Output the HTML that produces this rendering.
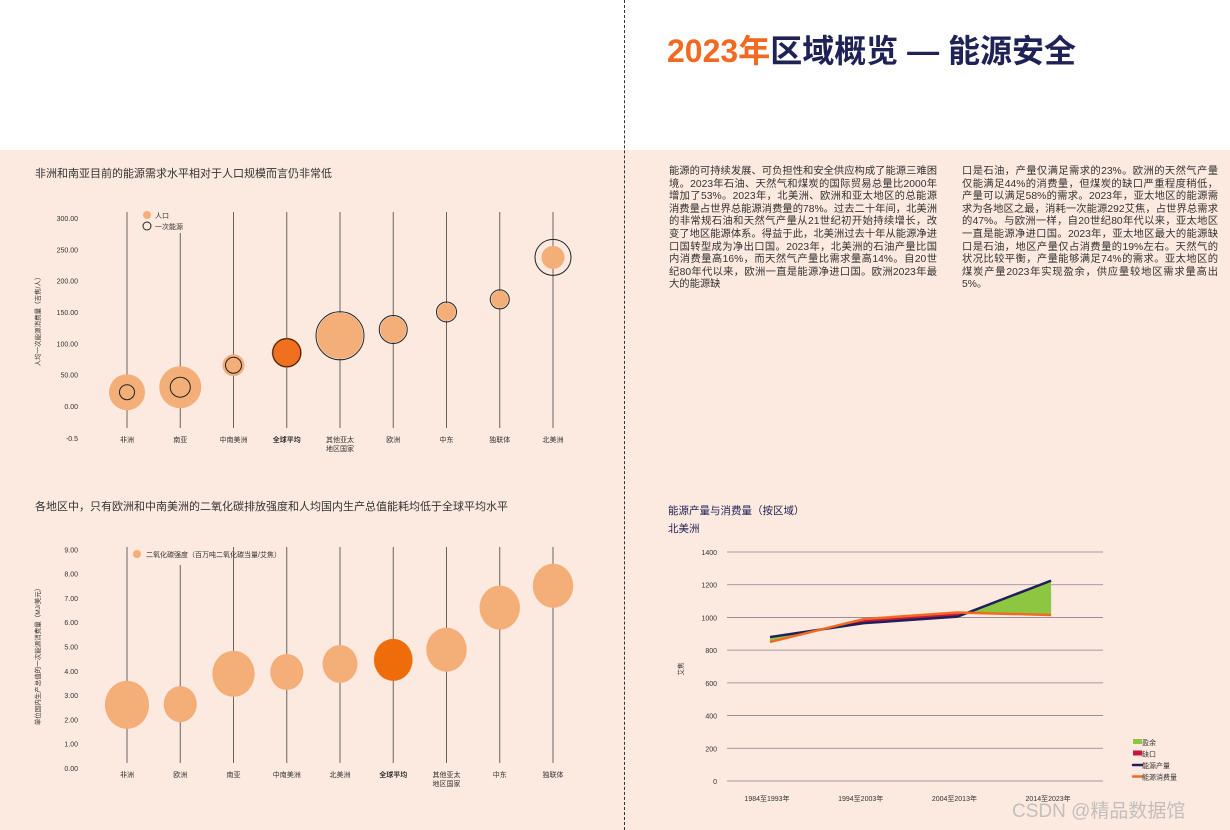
<!DOCTYPE html>
<html><head><meta charset="utf-8"><style>
body{margin:0;width:1230px;height:830px;position:relative;overflow:hidden;background:#fff;font-family:"Liberation Sans","Noto Sans CJK SC",sans-serif;color:#333}
.bg{position:absolute;left:0;top:150px;width:1230px;height:680px;background:#fce9df}
.divider{position:absolute;left:624px;top:0;height:830px;border-left:1px dashed #333}
.t{position:absolute;white-space:nowrap}
.para{position:absolute;top:166px;font-size:10.3px;line-height:12.6px;color:#333;text-align:justify}
svg{position:absolute;left:0;top:0}
</style></head><body>
<div class="bg"></div>
<div class="divider"></div>
<div class="t" style="left:667px;top:26px;font-size:32px;font-weight:bold;color:#1f2255"><span style="color:#f26a21">2023年</span>区域概览 — 能源安全</div>
<div class="t" style="left:35px;top:165px;font-size:11px">非洲和南亚目前的能源需求水平相对于人口规模而言仍非常低</div>
<div class="t" style="left:35px;top:498px;font-size:11px">各地区中，只有欧洲和中南美洲的二氧化碳排放强度和人均国内生产总值能耗均低于全球平均水平</div>
<div class="para" style="left:669px;width:268px">能源的可持续发展、可负担性和安全供应构成了能源三难困境。2023年石油、天然气和煤炭的国际贸易总量比2000年增加了53%。2023年，北美洲、欧洲和亚太地区的总能源消费量占世界总能源消费量的78%。过去二十年间，北美洲的非常规石油和天然气产量从21世纪初开始持续增长，改变了地区能源体系。得益于此，北美洲过去十年从能源净进口国转型成为净出口国。2023年，北美洲的石油产量比国内消费量高16%，而天然气产量比需求量高14%。自20世纪80年代以来，欧洲一直是能源净进口国。欧洲2023年最大的能源缺</div>
<div class="para" style="left:962px;width:256px">口是石油，产量仅满足需求的23%。欧洲的天然气产量仅能满足44%的消费量，但煤炭的缺口严重程度稍低，产量可以满足58%的需求。2023年，亚太地区的能源需求为各地区之最，消耗一次能源292艾焦，占世界总需求的47%。与欧洲一样，自20世纪80年代以来，亚太地区一直是能源净进口国。2023年，亚太地区最大的能源缺口是石油，地区产量仅占消费量的19%左右。天然气的状况比较平衡，产量能够满足74%的需求。亚太地区的煤炭产量2023年实现盈余，供应量较地区需求量高出5%。</div>
<div class="t" style="left:668px;top:503px;font-size:10.5px;color:#1f2255">能源产量与消费量（按区域）</div>
<div class="t" style="left:668px;top:521px;font-size:10.5px;color:#1f2255">北美洲</div>
<div class="t" style="left:1012px;top:796px;font-size:19px;color:rgba(180,180,180,0.8)">CSDN @精品数据馆</div>
<svg id="svg" width="1230" height="830"></svg>
<script>
// chart 1 data
const c1Cats=["非洲","南亚","中南美洲","全球平均","其他亚太\n地区国家","欧洲","中东","独联体","北美洲"];
const c1Vals=[22,30,65,85,112,122,150,170,237];
const c1Pop=[18,21,11,15,23,13,9,8.5,11.5];
const c1Energy=[7.5,10,8,14,24,14,10,9.5,18];
const c1Ticks=["300.00","250.00","200.00","150.00","100.00","50.00","0.00"];
const c1TickVals=[300,250,200,150,100,50,0];
// chart 2 data
const c2Cats=["非洲","欧洲","南亚","中南美洲","北美洲","全球平均","其他亚太\n地区国家","中东","独联体"];
const c2Vals=[2.6,2.63,3.88,3.95,4.28,4.45,4.87,6.6,7.5];
const c2Size=[24,18,23,18,19,21,22,22,22];
const c2TickVals=[9,8,7,6,5,4,3,2,1,0];
// chart 3 data
const c3Cats=["1984至1993年","1994至2003年","2004至2013年","2014至2023年"];
const c3Prod=[880,965,1005,1225];
const c3Cons=[850,990,1030,1015];
const c3TickVals=[1400,1200,1000,800,600,400,200,0];

const svg=document.getElementById('svg');const NS="http://www.w3.org/2000/svg";
function mk(tag,attrs,parent){const e=document.createElementNS(NS,tag);for(const k in attrs)e.setAttribute(k,attrs[k]);(parent||svg).appendChild(e);return e;}
function txt(x,y,s,size,anchor,extra){const e=mk('text',Object.assign({x:x,y:y,'font-size':size,'text-anchor':anchor||'middle',fill:'#333','font-family':'Liberation Sans, Noto Sans CJK SC, sans-serif'},extra||{}));e.textContent=s;return e;}
const colX=i=>127+i*53.25;
// Chart 1
const y1=v=>406-v*0.627;
c1TickVals.forEach((v,i)=>{const t=txt(78,y1(v)+3,c1Ticks[i],7,'end');});
{const t=txt(0,0,"-0.5",7,'end',{x:78,y:441});}
{const t=txt(0,0,"人均一次能源消费量（吉焦/人）",6.5,'middle',{transform:'translate(40,320) rotate(-90)'});}
c1Cats.forEach((c,i)=>{
  const x=colX(i);
  const l=mk('line',{x1:x,x2:x,y1:i==1?233:212,y2:428,stroke:'#6d6260','stroke-width':1});
  
  const cy=y1(c1Vals[i]);const dark=i==3;
  const p=mk('circle',{cx:x,cy:cy,r:c1Pop[i],fill:dark?'#f07020':'#f4ae78'});
  
  const e=mk('circle',{cx:x,cy:cy,r:c1Energy[i],fill:'none',stroke:'#222','stroke-width':1});
  
  c.split("\n").forEach((s,k)=>{const t=txt(x,442+k*9,s,7,'middle',dark?{'font-weight':'bold'}:{});});
});
{const a=mk('circle',{cx:147,cy:215,r:4,fill:'#f4ae78'});
const b=mk('circle',{cx:147,cy:226,r:4,fill:'none',stroke:'#222'});
const t1=txt(155,218,"人口",7,'start');
const t2=txt(155,229,"一次能源",7,'start');}
// Chart 2
const y2=v=>768-v*24.3;
c2TickVals.forEach(v=>{const t=txt(78,y2(v)+3,v.toFixed(2),7,'end');});
{const t=txt(0,0,"单位国内生产总值的一次能源消费量（MJ/美元）",6.5,'middle',{transform:'translate(40,655) rotate(-90)'});}
c2Cats.forEach((c,i)=>{
  const x=colX(i);
  const l=mk('line',{x1:x,x2:x,y1:i==1?565:547,y2:763,stroke:'#6d6260','stroke-width':1});
  
  const dark=i==5;const r=c2Size[i];
  const b=mk('ellipse',{cx:x,cy:y2(c2Vals[i]),rx:r*0.92,ry:r,fill:dark?'#ee6c0a':'#f4ae78'});
  
  c.split("\n").forEach((s,k)=>{const t=txt(x,777+k*9,s,7,'middle',dark?{'font-weight':'bold'}:{});});
});
{const a=mk('circle',{cx:137,cy:554,r:4,fill:'#f4ae78'});
const t=txt(146,557,"二氧化碳强度（百万吨二氧化碳当量/艾焦）",7,'start');}
// Chart 3
const y3=v=>781-v*(229/1400);
const x3=i=>770+i*93.7;
c3TickVals.forEach(v=>{
  const g=mk('line',{x1:727,x2:1103,y1:y3(v),y2:y3(v),stroke:'#8a8290','stroke-width':0.8});
  
  const t=txt(717,y3(v)+3,String(v),7,'end');
});
{const t=txt(0,0,"艾焦",6.5,'middle',{transform:'translate(683,669) rotate(-90)'});}
c3Cats.forEach((c,i)=>{const t=txt(x3(i)-3,801,c,7);});
for(let i=0;i<c3Prod.length-1;i++){
  const d0=c3Prod[i]-c3Cons[i],d1=c3Prod[i+1]-c3Cons[i+1];
  const seg=(xa,pa,ca,xb,pb,cb,pos)=>{const poly=mk('polygon',{points:`${xa},${y3(pa)} ${xb},${y3(pb)} ${xb},${y3(cb)} ${xa},${y3(ca)}`,fill:pos?'#8dc641':'#c8143f'});};
  if(d0*d1>=0){seg(x3(i),c3Prod[i],c3Cons[i],x3(i+1),c3Prod[i+1],c3Cons[i+1],(d0+d1)>=0);}
  else{const f=d0/(d0-d1);const xm=x3(i)+f*(x3(i+1)-x3(i));const pm=c3Prod[i]+f*(c3Prod[i+1]-c3Prod[i]);
    seg(x3(i),c3Prod[i],c3Cons[i],xm,pm,pm,d0>0);seg(xm,pm,pm,x3(i+1),c3Prod[i+1],c3Cons[i+1],d1>0);}
}
{const pl=mk('polyline',{points:c3Prod.map((v,i)=>x3(i)+','+y3(v)).join(' '),fill:'none',stroke:'#1f1f5a','stroke-width':2.5});
const cl=mk('polyline',{points:c3Cons.map((v,i)=>x3(i)+','+y3(v)).join(' '),fill:'none',stroke:'#f26a21','stroke-width':2.5});}
[["盈余",'#8dc641','rect'],["缺口",'#c8143f','rect'],["能源产量",'#1f1f5a','line'],["能源消费量",'#f26a21','line']].forEach((e,i)=>{
  const y=742+i*11.5;
  const m=e[2]=='rect'?mk('rect',{x:1133,y:y-3,width:9,height:5,fill:e[1]}):mk('line',{x1:1133,x2:1142,y1:y,y2:y,stroke:e[1],'stroke-width':2.5,'stroke-linecap':'round'});
  
  const t=txt(1142,y+3,e[0],7,'start');
});
</script>
</body></html>
